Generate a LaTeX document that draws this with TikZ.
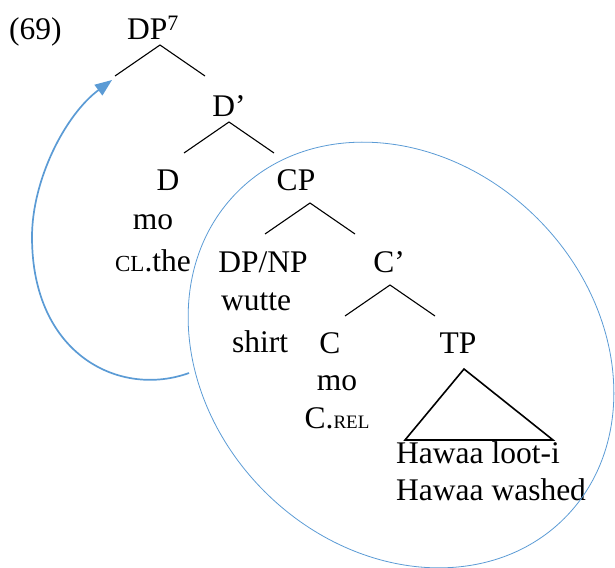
\documentclass[tikz,border=0pt]{standalone}
\usepackage{fontspec}
\setmainfont{Liberation Serif}
\usetikzlibrary{arrows.meta}
\definecolor{movblue}{RGB}{91,155,213}
\def\branch(#1,#2){\draw[line width=1.1pt] ({#1-45},{#2+31}) -- (#1,#2) -- ({#1+45},{#2+31});}
\tikzset{
	lab/.style={anchor=base, inner sep=0pt},
	labw/.style={anchor=base west, inner sep=0pt}
}

\begin{document}
\begin{tikzpicture}[x=1pt, y=-1pt, font=\fontsize{31.5}{36}\selectfont]
		%%%%% START %%%%%
		\useasboundingbox (0, 0) rectangle (615, 567);
		
		\node[labw] (ex) at (9, 40) {(69)};
		\node[labw] (dp) at (127, 40) {DP\textsuperscript{7}};
		\branch(160, 45);
		\coordinate (gap) at (112, 80);
		
		\node[lab] (dbar) at (229, 117) {D’};
		\branch(229, 122);
		
		\node[lab] (d) at (168, 190) {D};
		\node[lab] (dmo) at (153, 229) {mo};
		\node[lab] (dgl) at (153, 271) {{\fontsize{23}{23}\selectfont CL}.the};
		
		\node[lab] (cp) at (296, 190) {CP};
		\branch(310, 203);
		
		\node[lab] (np) at (263, 272) {DP/NP};
		\node[lab] (npw) at (256, 310) {wutte};
		\node[lab] (npgl) at (260, 352) {shirt};
		
		\node[lab] (cbar) at (389, 272) {C’};
		\branch(390, 285);
		
		\node[lab] (c) at (330, 353) {C};
		\node[lab] (cmo) at (337, 390) {mo};
		\node[lab] (cgl) at (337, 428) {C.{\fontsize{19}{19}\selectfont REL}};
		
		\node[lab] (tp) at (458, 353) {TP};
		\draw[line width=1.6pt] (464, 369) -- (405, 440) -- (553, 440) -- cycle;
		\node[labw] (tpw) at (396, 463) {Hawaa loot-i};
		\node[labw] (tpgl) at (396, 500) {Hawaa washed};
		
		% relative clause and movement
		\draw[movblue, line width=0.8pt, rotate around={-45:(401, 355)}] (401, 355) ellipse [x radius=231pt, y radius=193pt];
		\draw[movblue, line width=1.7pt, -{Triangle[length=17pt, width=13pt]}] (189, 373) .. controls (120, 398) and (32, 355) .. (32, 237) .. controls (32, 180) and (65, 115) .. (gap);
		
		%%%%% END %%%%%
	\end{tikzpicture}
\end{document}
